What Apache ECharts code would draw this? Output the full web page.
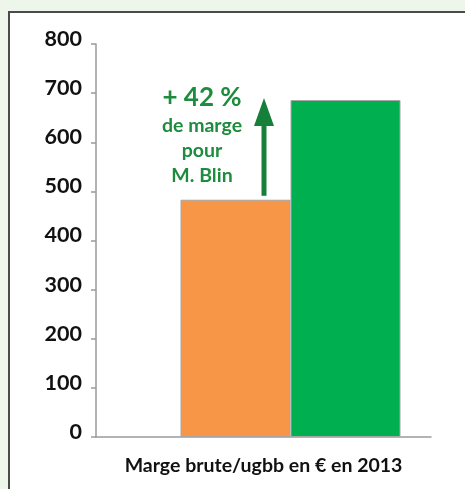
<!DOCTYPE html>
<html>
<head>
<meta charset="utf-8">
<script src="https://cdn.jsdelivr.net/npm/echarts@6/dist/echarts.min.js"></script>
<style>
  html, body { margin: 0; padding: 0; background: #eef5ea; }
  #main { width: 465px; height: 489px; }
</style>
</head>
<body>
<div id="main"></div>
<script>
// valeurs
var categories = ['Marge brute/ugbb en € en 2013'];
var seriesNames = ['Moyenne', 'M. Blin'];
var orangeValues = [483];
var greenValues = [686];
var yTicks = [0, 100, 200, 300, 400, 500, 600, 700, 800];
var noteLines = ['+ 42 %', 'de marge', 'pour', 'M. Blin'];

var font = 'Lato, "Open Sans", sans-serif';
var noteColor = '#1e8c3e';

var chart = echarts.init(document.getElementById('main'));
chart.setOption({
    backgroundColor: '#eef5ea',
    animation: false,
    grid: [
        { left: 96, right: 34, top: 44, bottom: 52 },
        { left: 150, right: 34, top: 44, bottom: 52 }
    ],
    xAxis: [{
        gridIndex: 0,
        type: 'category',
        data: categories,
        axisLine: { lineStyle: { color: '#9a9a9a', width: 1.5 } },
        axisTick: { show: false },
        axisLabel: {
            color: '#111', fontFamily: font, fontWeight: 'bold', fontSize: 19.5, margin: 19
        }
    }, {
        gridIndex: 1,
        type: 'category',
        data: categories,
        show: false
    }],
    yAxis: [{
        gridIndex: 0,
        type: 'value',
        min: yTicks[0],
        max: yTicks[yTicks.length - 1],
        interval: 100,
        splitLine: { show: false },
        axisLine: { show: true, lineStyle: { color: '#9a9a9a', width: 1.5 } },
        axisTick: { show: true, length: 5, lineStyle: { color: '#9a9a9a', width: 1.5 } },
        axisLabel: {
            color: '#111', fontFamily: font, fontWeight: 'bold', fontSize: 21.5, margin: 14,
            verticalAlign: 'bottom', lineHeight: 10
        }
    }, {
        gridIndex: 1,
        type: 'value',
        min: yTicks[0],
        max: yTicks[yTicks.length - 1],
        show: false
    }],
    series: [{
        name: seriesNames[0],
        type: 'bar',
        xAxisIndex: 1,
        yAxisIndex: 1,
        data: orangeValues,
        barWidth: 110,
        barGap: '0%',
        itemStyle: { color: '#f79646', borderColor: '#a6a6a6', borderWidth: 1 }
    }, {
        name: seriesNames[1],
        type: 'bar',
        xAxisIndex: 1,
        yAxisIndex: 1,
        data: greenValues,
        barWidth: 110,
        barGap: '0%',
        itemStyle: { color: '#00b050', borderColor: '#a6a6a6', borderWidth: 1 }
    }]
});

// cadre, flèche et commentaire
var yFrom = chart.convertToPixel({ yAxisIndex: 0 }, orangeValues[0] + 8);
var yTo = chart.convertToPixel({ yAxisIndex: 0 }, greenValues[0] + 4);
var ax = 264;
var headH = 28, headW = 20;
var graphics = [{
    type: 'rect',
    z: -10,
    shape: { x: 9, y: 12, width: 470, height: 490 },
    style: { fill: '#fff', stroke: '#4a4a48', lineWidth: 2 }
}, {
    type: 'rect',
    shape: { x: ax - 2.5, y: yTo + headH - 1, width: 5, height: yFrom - yTo - headH + 1 },
    style: { fill: '#16803a' }
}, {
    type: 'polygon',
    shape: { points: [[ax, yTo], [ax - headW / 2, yTo + headH], [ax + headW / 2, yTo + headH]] },
    style: { fill: '#16803a' }
}];
var sizes = [26, 19.5, 19.5, 19.5];
var ys = [98, 126, 151, 176];
noteLines.forEach(function (t, i) {
    graphics.push({
        type: 'text',
        style: {
            text: t, x: 202, y: ys[i], align: 'center', verticalAlign: 'middle',
            fill: noteColor, font: 'bold ' + sizes[i] + 'px ' + font
        }
    });
});
chart.setOption({ graphic: graphics });
</script>
</body>
</html>
